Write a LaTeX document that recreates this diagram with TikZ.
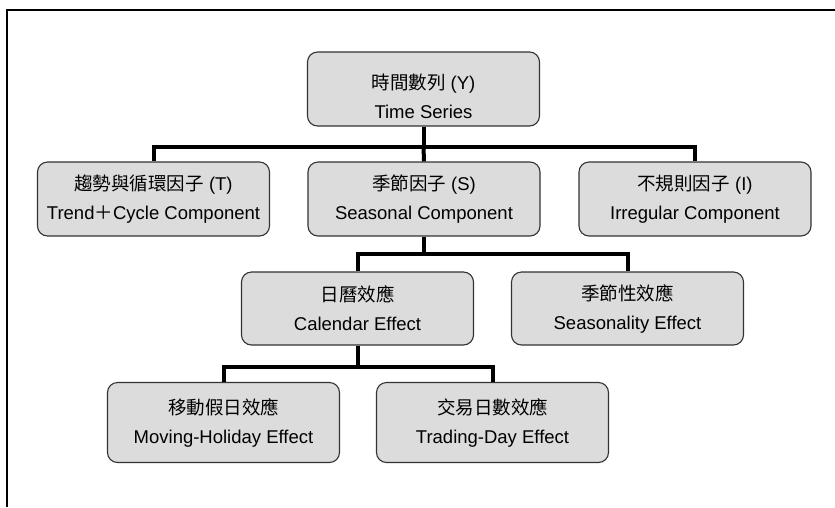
\documentclass[tikz,border=0pt]{standalone}
\usepackage{fontspec}
\setmainfont{Liberation Sans}
\newfontfamily\cjk{Noto Sans CJK TC}
\definecolor{boxfill}{HTML}{DCDCDC}
\definecolor{boxline}{HTML}{333333}
\tikzset{
  compbox/.style={draw=boxline, line width=1.1pt, fill=boxfill, rounded corners=10pt,
    minimum width=232pt, minimum height=74pt, align=center, inner sep=0pt,
    font=\fontsize{18.5}{29}\selectfont, text=black},
  conn/.style={line width=4pt, black},
  frameline/.style={line width=2pt, black}
}
\begin{document}
\begin{tikzpicture}[x=1pt,y=-1pt]
\useasboundingbox (0,0) rectangle (835,507);
\coordinate (fa) at (7,507);
\coordinate (fb) at (7,10);
\coordinate (fc) at (835,10);
\draw[frameline] (fa) -- (fb) -- (fc);

\node[compbox] (ts) at (423.5,89) {\rule{0pt}{30pt}{\cjk 時間數列} (Y)\\Time Series};
\node[compbox] (tc) at (153.5,199) {{\cjk 趨勢與循環因子} (T)\\Trend{\cjk ＋}Cycle Component};
\node[compbox] (sc) at (424,199) {{\cjk 季節因子} (S)\\Seasonal Component};
\node[compbox] (ic) at (695,199) {{\cjk 不規則因子} (I)\\Irregular Component};
\node[compbox, minimum height=73pt] (ce) at (357.5,308.5) {{\cjk 日曆效應}\\Calendar Effect};
\node[compbox, minimum height=73pt] (se) at (627.5,308.5) {{\cjk 季節性效應}\\Seasonality Effect};
\node[compbox, minimum height=80pt] (mh) at (223.5,422.5) {{\cjk 移動假日效應}\\Moving-Holiday Effect};
\node[compbox, minimum height=80pt] (td) at (492.5,422.5) {{\cjk 交易日數效應}\\Trading-Day Effect};

\draw[conn] (ts.south) -- ++(0,20) coordinate (b1);
\draw[conn] (b1) -| (tc.north);
\draw[conn] (b1) -| (ic.north);
\draw[conn] (b1) -- (sc.north);

\draw[conn] (sc.south) -- ++(0,17) coordinate (b2);
\draw[conn] (b2) -| (ce.north);
\draw[conn] (b2) -| (se.north);

\draw[conn] (ce.south) -- ++(0,21) coordinate (b3);
\draw[conn] (b3) -| (mh.north);
\draw[conn] (b3) -| (td.north);
\end{tikzpicture}
\end{document}
